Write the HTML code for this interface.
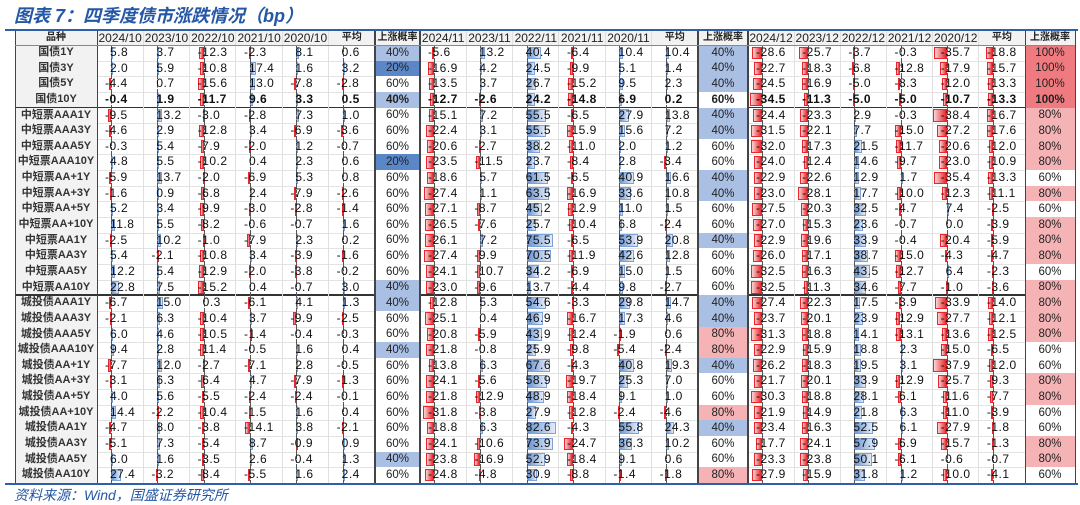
<!DOCTYPE html>
<html><head><meta charset="utf-8">
<style>
body{margin:0;background:#fff;width:1080px;height:503px;overflow:hidden;position:relative;font-family:"Liberation Sans","Noto Sans CJK SC",sans-serif;}
.abs{position:absolute;}
#title{left:14px;top:2px;font-size:18px;font-weight:bold;font-style:italic;color:#2457a6;white-space:nowrap;}
#source{left:14px;top:485px;font-size:14px;font-style:italic;color:#2457a6;white-space:nowrap;}
.cell{position:absolute;box-sizing:border-box;overflow:hidden;}
.num{position:absolute;font-size:12px;letter-spacing:0.5px;color:#111;white-space:nowrap;font-family:"Liberation Sans",sans-serif;}
.hdr{font-size:12px;color:#222;text-align:center;white-space:nowrap;}
.lab{font-size:11px;font-weight:bold;color:#333;text-align:center;white-space:nowrap;font-family:"Liberation Sans","Noto Sans CJK SC",sans-serif;}
.prob{font-size:11.5px;color:#222;display:flex;align-items:center;justify-content:center;font-family:"Liberation Sans",sans-serif;}
</style></head><body>
<div id="title" class="abs">图表 7：四季度债市涨跌情况（bp）</div>
<div class="abs" style="left:5px;top:29px;width:1073px;height:2px;background:#2e5fa8"></div>
<div id="tbl" class="abs" style="left:0;top:0;width:1080px;height:503px"></div>
<div class="abs" style="left:5px;top:483px;width:1073px;height:1.5px;background:#2e5fa8"></div>
<div id="source" class="abs">资料来源：Wind，国盛证券研究所</div>
<script>
const rowLabels=["国债1Y","国债3Y","国债5Y","国债10Y","中短票AAA1Y","中短票AAA3Y","中短票AAA5Y","中短票AAA10Y","中短票AA+1Y","中短票AA+3Y","中短票AA+5Y","中短票AA+10Y","中短票AA1Y","中短票AA3Y","中短票AA5Y","中短票AA10Y","城投债AAA1Y","城投债AAA3Y","城投债AAA5Y","城投债AAA10Y","城投债AA+1Y","城投债AA+3Y","城投债AA+5Y","城投债AA+10Y","城投债AA1Y","城投债AA3Y","城投债AA5Y","城投债AA10Y"];
const headOct=["2024/10","2023/10","2022/10","2021/10","2020/10","平均","上涨概率"];
const headNov=["2024/11","2023/11","2022/11","2021/11","2020/11","平均","上涨概率"];
const headDec=["2024/12","2023/12","2022/12","2021/12","2020/12","平均","上涨概率"];
const octVals=[
[5.8,3.7,-12.3,-2.3,8.1,0.6],[2.0,5.9,-10.8,17.4,1.6,3.2],[-4.4,0.7,-15.6,13.0,-7.8,-2.8],[-0.4,1.9,-11.7,9.6,3.3,0.5],
[-9.5,13.2,-3.0,-2.8,7.3,1.0],[-4.6,2.9,-12.8,3.4,-6.9,-3.6],[-0.3,5.4,-7.9,-2.0,1.2,-0.7],[4.8,5.5,-10.2,0.4,2.3,0.6],
[-5.9,13.7,-2.0,-6.9,5.3,0.8],[-1.6,0.9,-6.8,2.4,-7.9,-2.6],[5.2,3.4,-9.9,-3.0,-2.8,-1.4],[11.8,5.5,-8.2,-0.6,-0.7,1.6],
[-2.5,10.2,-1.0,-7.9,2.3,0.2],[5.4,-2.1,-10.8,3.4,-3.9,-1.6],[12.2,5.4,-12.9,-2.0,-3.8,-0.2],[22.8,7.5,-15.2,0.4,-0.7,3.0],
[-6.7,15.0,0.3,-6.1,4.1,1.3],[-2.1,6.3,-10.4,3.7,-9.9,-2.5],[6.0,4.6,-10.5,-1.4,-0.4,-0.3],[9.4,2.8,-11.4,-0.5,1.6,0.4],
[-7.7,12.0,-2.7,-7.1,2.8,-0.5],[-3.1,6.3,-6.4,4.7,-7.9,-1.3],[4.0,5.6,-5.5,-2.4,-2.4,-0.1],[14.4,-2.2,-10.4,-1.5,1.6,0.4],
[-4.7,8.0,-3.8,-14.1,3.8,-2.1],[-5.1,7.3,-5.4,8.7,-0.9,0.9],[6.0,1.6,-3.5,2.6,-0.4,1.3],[27.4,-3.2,-8.4,-5.5,1.6,2.4]];
const octProb=[40,20,60,40,60,60,60,20,60,60,60,60,60,60,60,40,40,60,60,40,60,60,60,60,60,60,40,60];
const novVals=[
[-5.6,13.2,40.4,-6.4,10.4,10.4],[-16.9,4.2,24.5,-9.9,5.1,1.4],[-13.5,3.7,26.7,-15.2,9.5,2.3],[-12.7,-2.6,24.2,-14.8,6.9,0.2],
[-15.1,7.2,55.5,-6.5,27.9,13.8],[-22.4,3.1,55.5,-15.9,15.6,7.2],[-20.6,-2.7,38.2,-11.0,2.0,1.2],[-23.5,-11.5,23.7,-8.4,2.8,-3.4],
[-18.6,5.7,61.5,-6.5,40.9,16.6],[-27.4,1.1,63.5,-16.9,33.6,10.8],[-27.1,-8.7,45.2,-12.9,11.0,1.5],[-26.5,-7.6,25.7,-10.4,6.8,-2.4],
[-26.1,7.2,75.5,-6.5,53.9,20.8],[-27.4,-9.9,70.5,-11.9,42.6,12.8],[-24.1,-10.7,34.2,-6.9,15.0,1.5],[-23.0,-9.6,13.7,-4.4,9.8,-2.7],
[-12.8,5.3,54.6,-3.3,29.8,14.7],[-25.1,0.4,46.9,-16.7,17.3,4.6],[-20.8,-5.9,43.9,-12.4,-1.9,0.6],[-21.8,-0.8,25.9,-9.8,-5.4,-2.4],
[-13.8,6.3,67.6,-4.3,40.8,19.3],[-24.1,-5.6,58.9,-19.7,25.3,7.0],[-21.8,-12.9,48.9,-18.4,9.1,1.0],[-31.8,-3.8,27.9,-12.8,-2.4,-4.6],
[-18.8,6.3,82.6,-4.3,55.8,24.3],[-24.1,-10.6,73.9,-24.7,36.3,10.2],[-23.8,-16.9,52.9,-18.4,9.1,0.6],[-24.8,-4.8,30.9,-8.8,-1.4,-1.8]];
const novProb=[40,40,40,60,40,40,60,60,40,40,60,60,40,60,60,60,40,40,80,80,40,60,60,80,40,60,60,80];
const decVals=[
[-28.6,-25.7,-3.7,-0.3,-35.7,-18.8],[-22.7,-18.3,-6.8,-12.8,-17.9,-15.7],[-24.5,-16.9,-5.0,-8.3,-12.0,-13.3],[-34.5,-11.3,-5.0,-5.0,-10.7,-13.3],
[-24.4,-23.3,2.9,-0.3,-38.4,-16.7],[-31.5,-22.1,7.7,-15.0,-27.2,-17.6],[-32.0,-17.3,21.5,-11.7,-20.6,-12.0],[-24.0,-12.4,14.6,-9.7,-23.0,-10.9],
[-22.9,-22.6,12.9,1.7,-35.4,-13.3],[-23.0,-28.1,17.7,-10.0,-12.3,-11.1],[-27.5,-20.3,32.5,-4.7,7.4,-2.5],[-27.0,-15.3,23.6,-0.7,0.0,-3.9],
[-22.9,-19.6,33.9,-0.4,-20.4,-5.9],[-26.0,-17.1,38.7,-15.0,-4.3,-4.7],[-32.5,-16.3,43.5,-12.7,6.4,-2.3],[-32.5,-11.3,34.6,-7.7,-1.0,-3.6],
[-27.4,-22.3,17.5,-3.9,-33.9,-14.0],[-23.7,-20.1,23.9,-12.9,-27.7,-12.1],[-31.3,-18.8,14.1,-13.1,-13.6,-12.5],[-22.9,-15.9,18.8,2.3,-15.0,-6.5],
[-26.2,-18.3,19.5,3.1,-37.9,-12.0],[-21.7,-20.1,33.9,-12.9,-25.7,-9.3],[-30.3,-18.8,28.1,-6.1,-11.6,-7.7],[-21.9,-14.9,21.8,6.3,-11.0,-3.9],
[-23.4,-16.3,52.5,6.1,-27.9,-1.8],[-17.7,-24.1,57.9,-6.9,-15.7,-1.3],[-23.3,-23.8,50.1,-6.1,-0.6,-0.7],[-27.9,-15.9,31.8,1.2,-10.0,-4.1]];
const decProb=[100,100,100,100,80,80,80,80,60,80,60,80,80,80,60,80,80,80,80,60,60,80,80,60,60,80,80,60];

const tbl=document.getElementById('tbl');
const TOP=31,HDR=14,ROWH=15.64,LEFT=15,LABW=82;
const blocks=[{x:97,w:46.33,pw:45,h:headOct,v:octVals,p:octProb,n:'oct'},{x:420,w:46.33,pw:50,h:headNov,v:novVals,p:novProb,n:'nov'},{x:748,w:46.17,pw:50,h:headDec,v:decVals,p:decProb,n:'dec'}];
const SCALE=0.35;
function yRow(i){return TOP+HDR+i*ROWH;}
function barLen(v){return Math.abs(v)*SCALE;}
function probColor(p){return p<=20?'#5b87c9':p<=40?'#a9c0e4':p<=60?'#ffffff':p<=80?'#f5b3b6':'#ef7b80';}
function div(cls,css,txt){const d=document.createElement('div');d.className=cls;d.style.cssText=css;if(txt!==undefined)d.textContent=txt;tbl.appendChild(d);return d;}
let hb=div('cell','left:'+LEFT+'px;top:'+TOP+'px;width:'+(1075-LEFT)+'px;height:'+HDR+'px;background:#f2f2f2;');


let lc=div('cell','left:'+LEFT+'px;top:'+(TOP+HDR)+'px;width:'+LABW+'px;height:'+(28*ROWH)+'px;background:#f2f2f2;');


let h0=div('cell hdr','left:'+LEFT+'px;top:'+TOP+'px;width:'+LABW+'px;height:'+HDR+'px;line-height:'+HDR+'px;font-weight:bold;font-size:10px;','品种');


rowLabels.forEach((t,i)=>{
  const d=div('cell lab','left:'+LEFT+'px;top:'+yRow(i)+'px;width:'+LABW+'px;height:'+ROWH+'px;line-height:'+ROWH+'px;',t);
  
  
});
for(let i=1;i<28;i++){
  const dark=(i===4||i===16);
  const g=div('cell','left:'+(dark?LEFT:97)+'px;top:'+(yRow(i)-(dark?1:0))+'px;width:'+(1075-(dark?LEFT:97))+'px;height:'+(dark?1.5:1)+'px;background:'+(dark?'#333':'#e3e3e3')+';');
  
  
}
blocks.forEach(b=>{
  b.h.forEach((t,c)=>{
    const x=b.x+c*b.w, w=c===6?b.pw:b.w;
    const hd=div('cell hdr','left:'+x+'px;top:'+TOP+'px;width:'+w+'px;height:'+HDR+'px;line-height:'+HDR+'px;'+(c>=5?'font-size:10px;font-weight:bold;':''),t);
    
    
  });
  b.v.forEach((row,i)=>{
    const y=yRow(i);
    row.forEach((v,c)=>{
      const x=b.x+c*b.w, ax=x+14;
      const L=barLen(v);
      if(L>0.3){
        const bar=div('cell','top:'+(y+1.5)+'px;height:'+(ROWH-3)+'px;width:'+L+'px;left:'+(v<0?ax-L:ax)+'px;'+(v<0?'background:linear-gradient(to left,#e8262b,#fbd3d4);border:1px solid #e8262b;':'background:linear-gradient(to right,#6b95d2,#e4ecf7);border:1px solid #7fa2d6;'));
        
        
      }
      const axl=div('cell','left:'+ax+'px;top:'+y+'px;width:0;height:'+ROWH+'px;border-left:1px dashed #555;');
      
      
      const s=(v<0?'-':'')+Math.abs(v).toFixed(1);
      const t=div('num','left:'+(v<0?ax-6:ax-1)+'px;top:'+(y+1)+'px;line-height:'+(ROWH-2)+'px;'+(i===3?'font-weight:bold;':''),s);
      
      
    });
    const px=b.x+6*b.w;
    const pc=div('cell prob','left:'+px+'px;top:'+y+'px;width:'+b.pw+'px;height:'+ROWH+'px;background:'+probColor(b.p[i])+';'+(i===3?'font-weight:bold;':''),b.p[i]+'%');
    
    
  });
  for(let c=0;c<=7;c++){
    const x=c===7?b.x+6*b.w+b.pw:b.x+c*b.w;
    const dark=(c===0||c===6||c===7);
    const vl=div('cell','left:'+(x-0.5)+'px;top:'+TOP+'px;width:'+(dark?1.3:1)+'px;height:'+(HDR+28*ROWH)+'px;background:'+(dark?'#444':'#e0e0e0')+';');
    
    
  }
});
const lb=div('cell','left:'+LEFT+'px;top:'+TOP+'px;width:1.3px;height:'+(HDR+28*ROWH)+'px;background:#444;');


const hl=div('cell','left:'+LEFT+'px;top:'+(TOP+HDR)+'px;width:'+(1075-LEFT)+'px;height:1px;background:#888;');


</script>
</body></html>
